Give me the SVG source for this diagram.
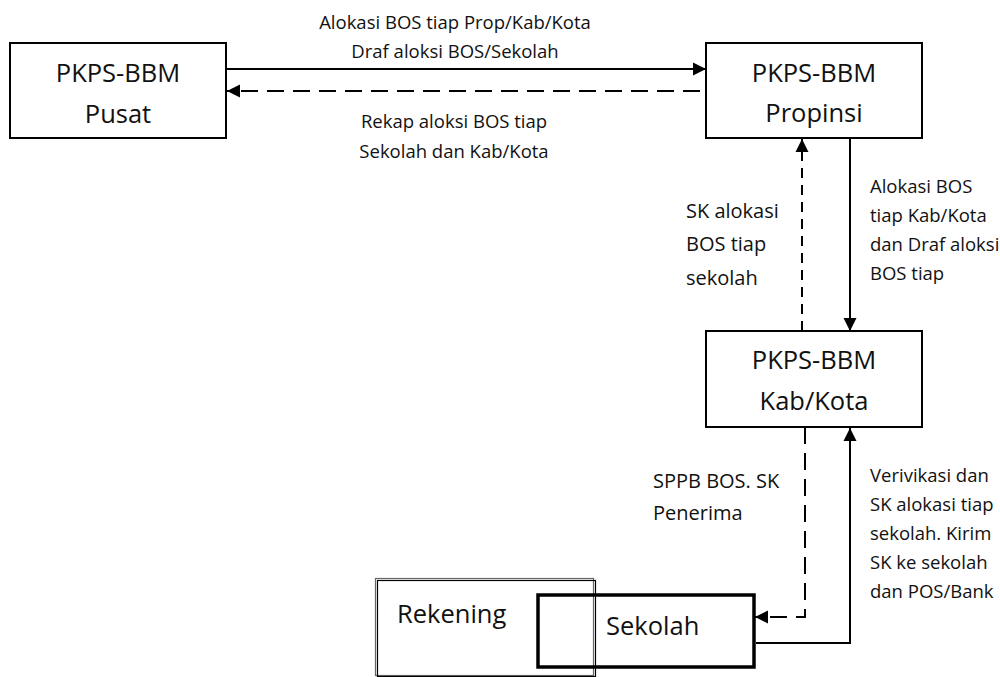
<svg xmlns="http://www.w3.org/2000/svg" width="1000" height="677" viewBox="0 0 1000 677">
  <style>
    .box { fill: none; stroke: #000; stroke-width: 2; }
    .thick { fill: none; stroke: #000; stroke-width: 3.5; }
    .title { font-family: "Open Sans", "Noto Sans", sans-serif; font-size: 25.5px; fill: #111; text-anchor: middle; }
    .lbl { font-family: "Open Sans", "Noto Sans", sans-serif; font-size: 18.5px; fill: #111; }
    .lbl-l { font-size: 20px; }
    .mid { text-anchor: middle; }
    .solid { fill: none; stroke: #000; stroke-width: 2; }
    .dash { fill: none; stroke: #000; stroke-width: 2; stroke-dasharray: 17 9; }
    .dash-short { fill: none; stroke: #000; stroke-width: 2; stroke-dasharray: 10 7; }
  </style>
  <defs>
    <marker id="head" markerUnits="userSpaceOnUse" markerWidth="14" markerHeight="14" refX="13" refY="7" orient="auto">
      <path d="M0,0.5 L13,7 L0,13.5 z" fill="#000"/>
    </marker>
  </defs>

  <rect width="1000" height="677" fill="#fff"/>

  <!-- Connectors -->
  <g id="connectors">
    <path class="solid" d="M226,69 H706" marker-end="url(#head)"/>
    <path class="dash" d="M700,91 H227" marker-end="url(#head)"/>
    <path class="dash-short" d="M802,331 V139" marker-end="url(#head)"/>
    <path class="solid" d="M850,138 V331" marker-end="url(#head)"/>
    <path class="dash" d="M805,427 V617 H755" marker-end="url(#head)"/>
    <path class="solid" d="M756,643 H850 V428" marker-end="url(#head)"/>
  </g>

  <!-- Connector labels -->
  <g id="labels">
    <text class="lbl mid" x="455" y="29">Alokasi BOS tiap Prop/Kab/Kota</text>
    <text class="lbl mid" x="455" y="58">Draf aloksi BOS/Sekolah</text>
    <text class="lbl mid" x="454" y="128">Rekap aloksi BOS tiap</text>
    <text class="lbl mid" x="454" y="158">Sekolah dan Kab/Kota</text>

    <text class="lbl lbl-l" x="686" y="218">SK alokasi</text>
    <text class="lbl lbl-l" x="686" y="251">BOS tiap</text>
    <text class="lbl lbl-l" x="686" y="285">sekolah</text>

    <text class="lbl" x="870" y="193">Alokasi BOS</text>
    <text class="lbl" x="870" y="222">tiap Kab/Kota</text>
    <text class="lbl" x="870" y="251">dan Draf aloksi</text>
    <text class="lbl" x="870" y="280">BOS tiap</text>

    <text class="lbl lbl-l" x="653" y="488">SPPB BOS. SK</text>
    <text class="lbl lbl-l" x="653" y="520">Penerima</text>

    <text class="lbl" x="870" y="482">Verivikasi dan</text>
    <text class="lbl" x="870" y="511">SK alokasi tiap</text>
    <text class="lbl" x="870" y="540">sekolah. Kirim</text>
    <text class="lbl" x="870" y="569">SK ke sekolah</text>
    <text class="lbl" x="870" y="598">dan POS/Bank</text>
  </g>

  <!-- Nodes -->
  <g id="pusat">
    <rect class="box" x="10" y="43" width="216" height="95"/>
    <text class="title" x="118" y="82">PKPS-BBM</text>
    <text class="title" x="118" y="123">Pusat</text>
  </g>

  <g id="propinsi">
    <rect class="box" x="706" y="43" width="216" height="95"/>
    <text class="title" x="814" y="82">PKPS-BBM</text>
    <text class="title" x="814" y="122">Propinsi</text>
  </g>

  <g id="kabkota">
    <rect class="box" x="706" y="331" width="216" height="96"/>
    <text class="title" x="814" y="369">PKPS-BBM</text>
    <text class="title" x="814" y="410">Kab/Kota</text>
  </g>

  <g id="rekening">
    <rect x="375.5" y="578.5" width="218" height="97" fill="none" stroke="#666" stroke-width="1.2"/>
    <rect x="377.5" y="580.5" width="218" height="96" fill="none" stroke="#000" stroke-width="1.2"/>
    <text class="title" x="397" y="623" style="text-anchor:start">Rekening</text>
  </g>

  <g id="sekolah">
    <rect class="thick" x="538" y="595" width="216" height="72"/>
    <text class="title" x="606" y="635" style="text-anchor:start">Sekolah</text>
  </g>
</svg>
